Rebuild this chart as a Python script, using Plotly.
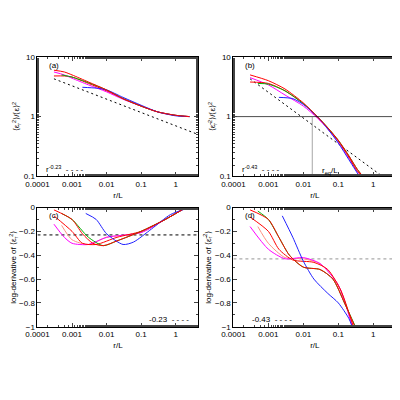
import plotly.graph_objects as go

# panel (a): normalised second moment vs r/L
a_red_x = [0.0003, 0.0006, 0.001, 0.003, 0.01, 0.03, 0.1, 0.3, 1, 2.5]
a_red_y = [6.0, 5.6, 5.0, 3.8, 2.8, 2.0, 1.5, 1.2, 1.05, 1.0]
a_red2_x = [0.0003, 0.0006, 0.001, 0.003, 0.01, 0.03, 0.1, 0.3, 1, 2.5]
a_red2_y = [4.8, 4.8, 4.6, 3.6, 2.7, 2.0, 1.5, 1.2, 1.05, 1.0]
a_green_x = [0.0005, 0.001, 0.003, 0.01, 0.03, 0.1, 0.3, 1, 2.5]
a_green_y = [5.0, 4.6, 3.7, 2.8, 2.0, 1.5, 1.2, 1.05, 1.0]
a_mag_x = [0.0003, 0.0006, 0.001, 0.003, 0.01, 0.03, 0.1, 0.3, 1, 2.5]
a_mag_y = [5.6, 5.0, 4.4, 3.4, 2.6, 1.95, 1.5, 1.2, 1.05, 1.0]
a_blue_x = [0.002, 0.005, 0.01, 0.03, 0.1, 0.3, 1, 2.5]
a_blue_y = [3.1, 3.0, 2.8, 2.1, 1.55, 1.2, 1.03, 1.0]
a_fit_x = [0.0003, 4.5]
a_fit_y = [4.3, 0.5]

# panel (b)
b_red_x = [0.0003, 0.001, 0.003, 0.01, 0.025, 0.05, 0.1, 0.2, 0.35, 0.5]
b_red_y = [5.0, 4.0, 2.9, 1.7, 1.0, 0.65, 0.4, 0.22, 0.13, 0.1]
b_red2_x = [0.0003, 0.001, 0.003, 0.01, 0.025, 0.05, 0.1, 0.2, 0.35, 0.48]
b_red2_y = [3.8, 3.6, 2.7, 1.65, 1.0, 0.64, 0.39, 0.21, 0.12, 0.1]
b_green_x = [0.0005, 0.001, 0.003, 0.01, 0.025, 0.05, 0.1, 0.2, 0.35, 0.5]
b_green_y = [3.6, 3.5, 2.7, 1.65, 1.0, 0.65, 0.4, 0.22, 0.13, 0.1]
b_mag_x = [0.0003, 0.001, 0.003, 0.01, 0.025, 0.05, 0.1, 0.2, 0.35, 0.47]
b_mag_y = [4.5, 3.4, 2.3, 1.5, 0.95, 0.62, 0.37, 0.2, 0.12, 0.1]
b_blue_x = [0.002, 0.005, 0.01, 0.025, 0.05, 0.1, 0.2, 0.3, 0.4]
b_blue_y = [2.1, 2.0, 1.6, 1.0, 0.62, 0.36, 0.19, 0.13, 0.1]
b_fit_x = [0.0003, 1.8]
b_fit_y = [4.3, 0.1]
r_eq = 0.018

# panel (c): log-derivative of panel (a)
c_red_x = [0.0003, 0.001, 0.002, 0.004, 0.008, 0.02, 0.1, 0.5, 2]
c_red_y = [-0.02, -0.1, -0.22, -0.3, -0.32, -0.28, -0.2, -0.1, 0.0]
c_green_x = [0.0005, 0.001, 0.003, 0.008, 0.02, 0.1, 0.5, 2]
c_green_y = [-0.05, -0.1, -0.25, -0.32, -0.28, -0.2, -0.1, 0.0]
c_red2_x = [0.0003, 0.001, 0.002, 0.005, 0.02, 0.1, 0.5, 2]
c_red2_y = [-0.07, -0.2, -0.3, -0.31, -0.25, -0.2, -0.1, 0.0]
c_pink_x = [0.0005, 0.001, 0.003, 0.01, 0.1, 0.5, 2]
c_pink_y = [-0.15, -0.27, -0.31, -0.25, -0.21, -0.1, 0.0]
c_mag_x = [0.0003, 0.0006, 0.001, 0.003, 0.01, 0.1, 0.5, 2]
c_mag_y = [-0.14, -0.25, -0.3, -0.31, -0.25, -0.21, -0.1, 0.0]
c_blue_x = [0.0025, 0.005, 0.01, 0.03, 0.06, 0.2, 0.7, 2]
c_blue_y = [-0.05, -0.1, -0.22, -0.31, -0.29, -0.18, -0.06, -0.01]
c_fit = -0.23

# panel (d): log-derivative of panel (b)
d_red_x = [0.0003, 0.001, 0.002, 0.004, 0.01, 0.03, 0.07, 0.15, 0.3]
d_red_y = [-0.02, -0.1, -0.25, -0.4, -0.5, -0.52, -0.6, -0.8, -1.0]
d_green_x = [0.0005, 0.001, 0.002, 0.004, 0.01, 0.03, 0.07, 0.15, 0.31]
d_green_y = [-0.03, -0.1, -0.25, -0.4, -0.5, -0.52, -0.6, -0.8, -1.0]
d_red2_x = [0.0003, 0.001, 0.002, 0.005, 0.02, 0.05, 0.12, 0.27]
d_red2_y = [-0.08, -0.2, -0.35, -0.44, -0.46, -0.52, -0.7, -1.0]
d_pink_x = [0.0005, 0.001, 0.003, 0.01, 0.03, 0.1, 0.26]
d_pink_y = [-0.16, -0.3, -0.42, -0.43, -0.47, -0.65, -1.0]
d_mag_x = [0.0003, 0.001, 0.003, 0.01, 0.03, 0.1, 0.25]
d_mag_y = [-0.16, -0.35, -0.43, -0.42, -0.47, -0.65, -1.0]
d_blue_x = [0.0025, 0.005, 0.01, 0.02, 0.05, 0.1, 0.2, 0.25]
d_blue_y = [-0.07, -0.25, -0.45, -0.6, -0.72, -0.8, -0.93, -1.0]
d_fit = -0.43

RED, GREEN, BLUE, MAG, PINK = '#ff0000', '#00b000', '#2020ff', '#ff00ff', '#ff9080'

fig = go.Figure()


def line(x, y, color, ax, dash='solid', width=1, shape='spline'):
    fig.add_trace(go.Scatter(x=x, y=y, mode='lines', xaxis='x' + ax, yaxis='y' + ax,
                             line=dict(color=color, width=width, dash=dash, shape=shape, smoothing=0.7),
                             showlegend=False, hoverinfo='skip'))


line(a_fit_x, a_fit_y, 'black', '', '2px,3px', 1, 'linear')
line(a_red2_x, a_red2_y, RED, '')
line(a_mag_x, a_mag_y, MAG, '')
line(a_green_x, a_green_y, GREEN, '')
line(a_blue_x, a_blue_y, BLUE, '')
line(a_red_x, a_red_y, RED, '')

line(b_fit_x, b_fit_y, 'black', '2', '2px,3px', 1, 'linear')
line(b_mag_x, b_mag_y, MAG, '2')
line(b_red2_x, b_red2_y, RED, '2')
line(b_green_x, b_green_y, GREEN, '2')
line(b_blue_x, b_blue_y, BLUE, '2')
line(b_red_x, b_red_y, RED, '2')
line([0.0001, 5], [1, 1], 'black', '2', 'solid', 0.7, 'linear')
line([r_eq, r_eq], [0.1, 1], 'gray', '2', 'solid', 0.7, 'linear')

line([0.0001, 5], [c_fit, c_fit], 'black', '3', '3px,3px', 1, 'linear')
for x, y, c in [(c_pink_x, c_pink_y, PINK), (c_mag_x, c_mag_y, MAG), (c_red2_x, c_red2_y, RED),
                (c_green_x, c_green_y, GREEN), (c_blue_x, c_blue_y, BLUE), (c_red_x, c_red_y, RED)]:
    line(x, y, c, '3')

line([0.0001, 5], [d_fit, d_fit], '#aaaaaa', '4', '3px,3px', 1.2, 'linear')
for x, y, c in [(d_pink_x, d_pink_y, PINK), (d_mag_x, d_mag_y, MAG), (d_red2_x, d_red2_y, RED),
                (d_green_x, d_green_y, GREEN), (d_blue_x, d_blue_y, BLUE), (d_red_x, d_red_y, RED)]:
    line(x, y, c, '4')

f = dict(family='Liberation Sans, Arial', size=8, color='black')
xlog = dict(type='log', range=[-4, 0.66], showgrid=False, zeroline=False, mirror='allticks',
            ticks='inside', ticklen=4, linecolor='black', linewidth=1, tickfont=f,
            tickvals=[0.0001, 0.001, 0.01, 0.1, 1], ticktext=['0.0001', '0.001', '0.01', '0.1', '1'],
            minor=dict(ticks='inside', ticklen=2, showgrid=False),
            title=dict(text='r/L', font=f, standoff=4))
ylog = dict(type='log', range=[-1, 1], showgrid=False, zeroline=False, mirror='allticks',
            ticks='inside', ticklen=4, linecolor='black', linewidth=1, tickfont=f,
            tickvals=[0.1, 1, 10], ticktext=['0.1', '1', '10'],
            minor=dict(ticks='inside', ticklen=2, showgrid=False))
ylin = dict(range=[-1, 0], showgrid=False, zeroline=False, mirror='allticks', ticks='inside',
            ticklen=4, linecolor='black', linewidth=1, tickfont=f, dtick=0.2,
            minor=dict(ticks='inside', ticklen=2, dtick=0.1))

top, bot = [0.58, 0.885], [0.195, 0.5]
left, right = [0.045, 0.46], [0.55, 0.97]
fig.update_layout(
    width=400, height=400, margin=dict(l=0, r=0, t=0, b=0),
    plot_bgcolor='white', paper_bgcolor='white', font=f,
    xaxis=dict(xlog, domain=left, anchor='y'),
    yaxis=dict(ylog, domain=top, anchor='x', title=dict(text='⟨ε<sub>r</sub><sup>2</sup>⟩/⟨ε⟩<sup>2</sup>', font=f, standoff=2)),
    xaxis2=dict(xlog, domain=right, anchor='y2'),
    yaxis2=dict(ylog, domain=top, anchor='x2', title=dict(text='⟨ε̃<sub>r</sub><sup>2</sup>⟩/⟨ε⟩<sup>2</sup>', font=f, standoff=2)),
    xaxis3=dict(xlog, domain=left, anchor='y3'),
    yaxis3=dict(ylin, domain=bot, anchor='x3', title=dict(text='log-derivative of ⟨ε<sub>r</sub><sup>2</sup>⟩', font=f, standoff=2)),
    xaxis4=dict(xlog, domain=right, anchor='y4'),
    yaxis4=dict(ylin, domain=bot, anchor='x4', title=dict(text='log-derivative of ⟨ε̃<sub>r</sub><sup>2</sup>⟩', font=f, standoff=2)),
)

ann = [
    dict(text='(a)', x=0.06, y=0.93, xref='x domain', yref='y domain'),
    dict(text='(b)', x=0.06, y=0.93, xref='x2 domain', yref='y2 domain'),
    dict(text='(c)', x=0.06, y=0.93, xref='x3 domain', yref='y3 domain'),
    dict(text='(d)', x=0.06, y=0.93, xref='x4 domain', yref='y4 domain'),
    dict(text='r<sup>-0.23</sup>  - - - -', x=0.04, y=0.06, xref='x domain', yref='y domain'),
    dict(text='r<sup>-0.43</sup>  - - - -', x=0.04, y=0.06, xref='x2 domain', yref='y2 domain'),
    dict(text='-0.23  - - - -', x=0.68, y=0.06, xref='x3 domain', yref='y3 domain'),
    dict(text='-0.43  - - - -', x=0.1, y=0.06, xref='x4 domain', yref='y4 domain'),
    dict(text='r<sub>eq</sub>/L', x=0.53, y=0.04, xref='x2 domain', yref='y2 domain'),
]
for a in ann:
    fig.add_annotation(showarrow=False, xanchor='left', yanchor='middle', font=f, **a)

fig.write_html('out.html')
